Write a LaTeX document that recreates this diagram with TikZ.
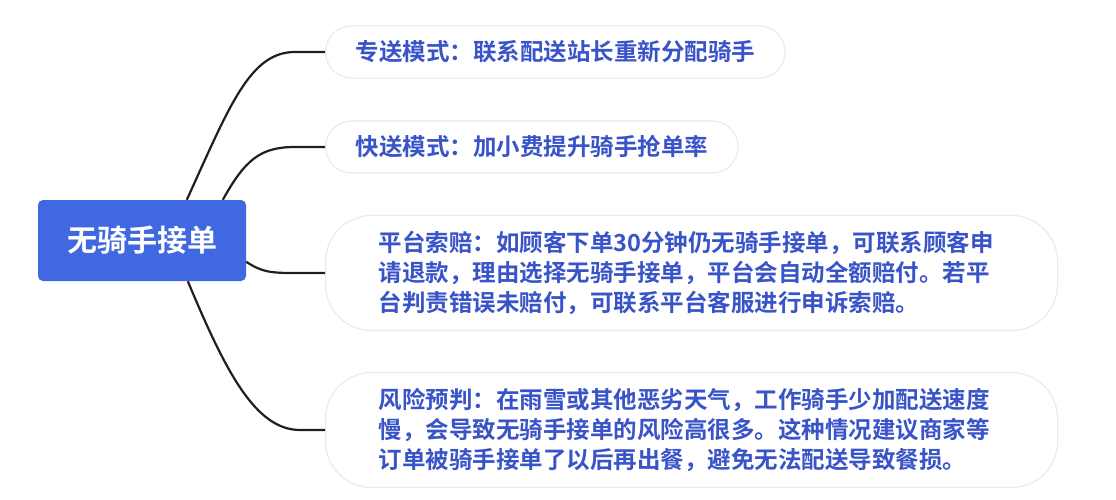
\documentclass[tikz,border=0pt]{standalone}
\usepackage{fontspec}
\newfontfamily\cjkb{Noto Sans CJK SC Bold}
\usetikzlibrary{calc}
\definecolor{rootblue}{RGB}{64,104,224}
\definecolor{leaftext}{RGB}{56,84,200}
\definecolor{leafborder}{RGB}{238,234,236}
\definecolor{linkcol}{RGB}{38,30,20}
\tikzset{
  rootbox/.style={fill=rootblue, rounded corners=5pt, minimum width=208pt, minimum height=81pt,
    inner sep=0pt, text=white, font=\cjkb\fontsize{30}{34}\selectfont},
  leafbox/.style={draw=leafborder, line width=1.2pt, fill=white, minimum height=52pt,
    rounded corners=26pt, inner xsep=30pt, inner ysep=0pt, text=leaftext,
    font=\cjkb\fontsize{23.5}{30}\selectfont, anchor=west},
  bigleaf/.style={leafbox, rounded corners=46pt, inner xsep=53pt, text width=626pt, minimum height=115pt, align=left},
  link/.style={draw=linkcol, line width=2.2pt}
}
\begin{document}
\begin{tikzpicture}[x=1pt,y=-1pt]
\useasboundingbox (0,0) rectangle (1116,500);
\node[rootbox] (root) at (142,240.5) {无骑手接单};
\node[leafbox] (b1) at (325,52) {专送模式：联系配送站长重新分配骑手};
\node[leafbox] (b2) at (325,147) {快送模式：加小费提升骑手抢单率};
\node[bigleaf] (b3) at (325,273) {平台索赔：如顾客下单30分钟仍无骑手接单，可联系顾客申\\请退款，理由选择无骑手接单，平台会自动全额赔付。若平\\台判责错误未赔付，可联系平台客服进行申诉索赔。};
\node[bigleaf] (b4) at (325,430) {风险预判：在雨雪或其他恶劣天气，工作骑手少加配送速度\\慢，会导致无骑手接单的风险高很多。这种情况建议商家等\\订单被骑手接单了以后再出餐，避免无法配送导致餐损。};
\draw[link] ($(root.north west)+(149,0)$) .. controls (230,105) and (250,52) .. (295,52) -- (b1.west);
\draw[link] ($(root.north west)+(185,0)$) .. controls (245,160) and (260,147) .. (295,147) -- (b2.west);
\draw[link] ($(root.north east)+(0,62)$) .. controls (262,272) and (270,273) .. (295,273) -- (b3.west);
\draw[link] ($(root.south west)+(150,0)$) .. controls (225,370) and (255,430) .. (300,430) -- (b4.west);
\end{tikzpicture}
\end{document}
